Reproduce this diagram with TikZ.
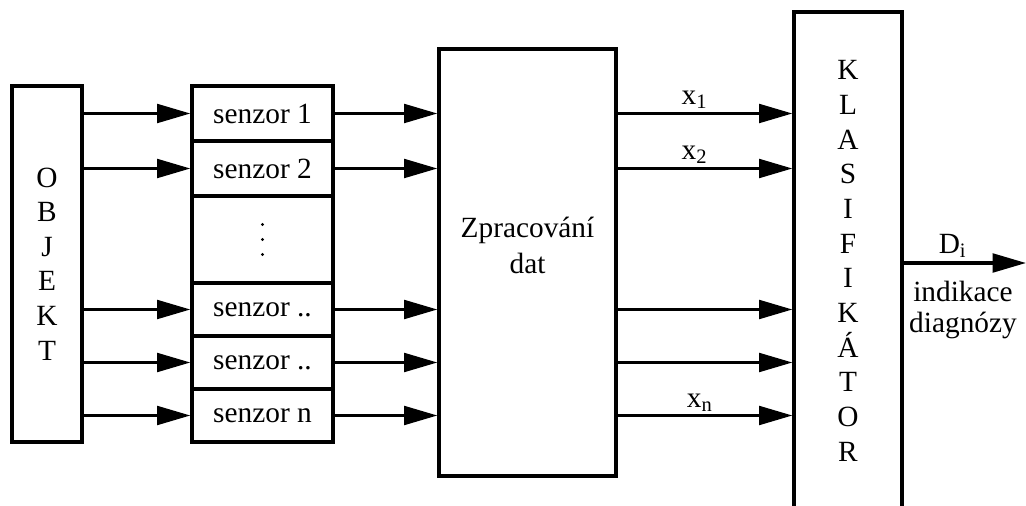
\documentclass[tikz,border=0pt]{standalone}
\usepackage{fontspec}
\setmainfont{Liberation Serif}
\usetikzlibrary{arrows.meta}
\begin{document}
\begin{tikzpicture}[x=0.75pt,y=-0.75pt,
  font=\fontsize{22}{26}\selectfont,
  box/.style={draw, line width=2.4pt, rectangle, inner sep=0pt},
  sensorbox/.style={box, minimum width=105.75pt},
  flow/.style={line width=2.4pt, -{Triangle[length=25pt,width=14pt]}},
  lbl/.style={anchor=base, inner sep=0pt},
  vstack/.style={align=center, font=\fontsize{22}{26}\selectfont}
]
\useasboundingbox (0,0) rectangle (1026,506);
\clip (0,0) rectangle (1026,506);

% object block
\node[box, minimum width=52.5pt, minimum height=267pt, vstack,
      font=\fontsize{22}{25.9}\selectfont] (obj) at (47,264)
  {O\\B\\J\\E\\K\\T};

% sensor column
\node[sensorbox, minimum height=41.25pt] (s1) at (262.5,113.5) {senzor 1};
\node[sensorbox, minimum height=41.25pt] (s2) at (262.5,168.5) {senzor 2};
\node[sensorbox, minimum height=65.25pt] (sd) at (262.5,239.5) {};
\foreach \dy in {-15,0,15}
  \fill ([yshift=\dy*0.75pt]sd.center) circle (1.3pt);
\node[sensorbox, minimum height=39.75pt] (s3) at (262.5,309.5) {senzor ..};
\node[sensorbox, minimum height=39.75pt] (s4) at (262.5,362.5) {senzor ..};
\node[sensorbox, minimum height=39.75pt] (sn) at (262.5,415.5) {senzor n};

% data processing block
\node[box, minimum width=132.75pt, minimum height=320.25pt,
      label={[name=proctext, align=center, yshift=13pt,
              font=\fontsize{22}{27}\selectfont]center:Zpracování\\dat}]
  (proc) at (527.5,262.5) {};

% classifier block
\node[box, minimum width=81pt, minimum height=373.5pt, vstack] (kla) at (848,261)
  {K\\L\\A\\S\\I\\F\\I\\K\\Á\\T\\O\\R};

% object -> sensors
\foreach \s in {s1,s2,s3,s4,sn}
  \draw[flow] (\s.west -| obj.east) -- (\s.west);

% sensors -> processing
\foreach \s in {s1,s2,s3,s4,sn}
  \draw[flow] (\s.east) -- (\s.east -| proc.west);

% features -> classifier
\draw[flow] (s1.east -| proc.east) -- node[lbl, pos=0.44, yshift=7pt] {x\textsubscript{1}} (s1.east -| kla.west);
\draw[flow] (s2.east -| proc.east) -- node[lbl, pos=0.44, yshift=7pt] {x\textsubscript{2}} (s2.east -| kla.west);
\draw[flow] (s3.east -| proc.east) -- (s3.east -| kla.west);
\draw[flow] (s4.east -| proc.east) -- (s4.east -| kla.west);
\draw[flow] (sn.east -| proc.east) -- node[lbl, pos=0.47, yshift=6pt] {x\textsubscript{n}} (sn.east -| kla.west);

% diagnosis output
\coordinate (out) at (1026,263);
\draw[flow] (out -| kla.east) -- node[lbl, pos=0.40, yshift=7pt] {D\textsubscript{i}} (out);
\node[anchor=north, inner sep=0pt, align=center,
      font=\fontsize{22}{23}\selectfont] (diag) at (963,281) {indikace\\diagnózy};
\end{tikzpicture}
\end{document}
